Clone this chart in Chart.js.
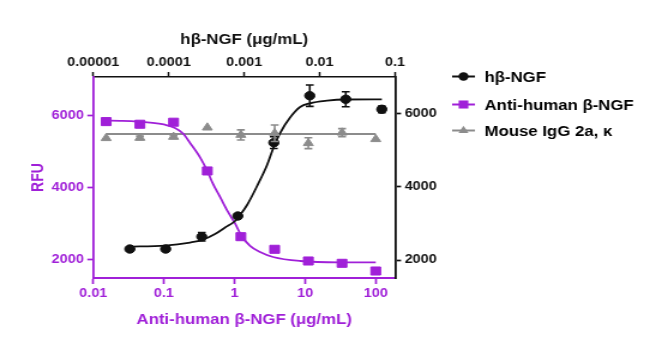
<!DOCTYPE html>
<html>
<head>
<meta charset="utf-8">
<script src="https://cdn.jsdelivr.net/npm/chart.js@4.4.1/dist/chart.umd.min.js"></script>
<style>
html,body{margin:0;padding:0;background:#fff;overflow:hidden}
#c{display:block}
</style>
</head>
<body>
<canvas id="c" width="542" height="361" style="width:650px;height:361px"></canvas>
<script>
// ---------- data ----------
// hβ-NGF (top x axis, µg/mL; right y axis, RFU)
const ngfConc = [3.05e-5, 9.1e-5, 2.74e-4, 8.23e-4, 2.47e-3, 7.4e-3, 2.22e-2, 6.67e-2];
const ngfRFU  = [2300, 2300, 2635, 3200, 5199, 6480, 6383, 6110];
const ngfErr  = [0, 0, 115, 0, 160, 290, 205, 90];
const ngfFitConc = [2.8e-5, 8.93e-5, 1.917e-4, 2.764e-4, 4.11e-4, 5.58e-4, 7.57e-4, 8.82e-4, 1.093e-3, 1.483e-3, 2.012e-3, 2.492e-3, 2.992e-3, 4.063e-3, 5.513e-3, 7.48e-3, 1.258e-2, 2.179e-2, 6.68e-2];
const ngfFitRFU  = [2363, 2395, 2477, 2545, 2709, 2886, 3064, 3227, 3500, 4018, 4591, 5109, 5463, 5886, 6172, 6273, 6344, 6377, 6382];

// Anti-human β-NGF (bottom x axis, µg/mL; left y axis, RFU)
const antiConc = [0.0152, 0.0457, 0.137, 0.412, 1.23, 3.70, 11.1, 33.3, 100];
const antiRFU  = [5842, 5769, 5825, 4472, 2647, 2297, 1972, 1908, 1694];
const antiErr  = [0, 70, 0, 0, 0, 0, 0, 0, 0];
const antiFitConc = [0.0152, 0.0239, 0.0635, 0.1036, 0.1436, 0.1865, 0.2343, 0.3246, 0.412, 0.4957, 0.6233, 0.809, 1.016, 1.236, 1.659, 2.296, 3.509, 8.47, 31.2, 100];
const antiFitRFU  = [5869, 5862, 5815, 5755, 5665, 5510, 5250, 4850, 4472, 4111, 3750, 3333, 3014, 2694, 2389, 2222, 2083, 1972, 1936, 1936];

// Mouse IgG 2a, κ (bottom x axis; left y axis)
const iggConc = [0.0152, 0.0457, 0.137, 0.412, 1.23, 3.70, 11.1, 33.3, 100];
const iggRFU  = [5381, 5389, 5417, 5675, 5472, 5519, 5242, 5536, 5353];
const iggErr  = [0, 50, 40, 0, 140, 230, 150, 110, 0];
const iggFitConc = [0.0152, 100];
const iggFitRFU  = [5500, 5500];

// ticks and labels
const bottomTicks = [0.01, 0.1, 1, 10, 100];
const bottomTickLabels = ['0.01', '0.1', '1', '10', '100'];
const topTicks = [0.00001, 0.0001, 0.001, 0.01, 0.1];
const topTickLabels = ['0.00001', '0.0001', '0.001', '0.01', '0.1'];
const yTicks = [2000, 4000, 6000];
const seriesNames = ['hβ-NGF', 'Anti-human β-NGF', 'Mouse IgG 2a, κ'];
const topTitle = 'hβ-NGF (μg/mL)';
const bottomTitle = 'Anti-human β-NGF (μg/mL)';
const leftTitle = 'RFU';

// ---------- styles ----------
const PURPLE = '#A020D8';
const BLACK = '#111111';
const GRAY = '#8C8C8C';
const FONT = '"Liberation Sans", Arial, Helvetica, sans-serif';

const pts = (xs, ys) => xs.map((x, i) => ({x: x, y: ys[i]}));

function drawMarker(ctx, style, x, y, r, color) {
  ctx.fillStyle = color;
  ctx.beginPath();
  if (style === 'circle') {
    ctx.arc(x, y, r, 0, Math.PI * 2);
  } else if (style === 'rect') {
    const s = r * Math.SQRT1_2;
    ctx.rect(x - s, y - s, 2 * s, 2 * s);
  } else if (style === 'triangle') {
    ctx.moveTo(x, y - r);
    ctx.lineTo(x + r * Math.sin(2 * Math.PI / 3), y - r * Math.cos(2 * Math.PI / 3));
    ctx.lineTo(x + r * Math.sin(4 * Math.PI / 3), y - r * Math.cos(4 * Math.PI / 3));
    ctx.closePath();
  }
  ctx.fill();
}

const errSeries = [
  {x: 'xt', y: 'yr', xv: ngfConc, yv: ngfRFU, err: ngfErr, color: BLACK},
  {x: 'xb', y: 'yl', xv: antiConc, yv: antiRFU, err: antiErr, color: PURPLE},
  {x: 'xb', y: 'yl', xv: iggConc, yv: iggRFU, err: iggErr, color: GRAY}
];

const errorBarPlugin = {
  id: 'errorBars',
  afterDatasetsDraw(chart) {
    const ctx = chart.ctx;
    errSeries.forEach(s => {
      const xs = chart.scales[s.x], ys = chart.scales[s.y];
      ctx.save();
      ctx.strokeStyle = s.color;
      ctx.lineWidth = 1.6;
      s.xv.forEach((xv, i) => {
        const e = s.err[i];
        if (!e) return;
        const px = xs.getPixelForValue(xv);
        const t = ys.getPixelForValue(s.yv[i] + e);
        const b = ys.getPixelForValue(s.yv[i] - e);
        ctx.beginPath();
        ctx.moveTo(px, t); ctx.lineTo(px, b);
        ctx.moveTo(px - 3.3, t); ctx.lineTo(px + 3.3, t);
        ctx.moveTo(px - 3.3, b); ctx.lineTo(px + 3.3, b);
        ctx.stroke();
      });
      ctx.restore();
    });
  }
};

const legendItems = [
  {label: seriesNames[0], color: BLACK, style: 'circle', r: 4.2},
  {label: seriesNames[1], color: PURPLE, style: 'rect', r: 5.7},
  {label: seriesNames[2], color: GRAY, style: 'triangle', r: 4.8}
];
const legendPlugin = {
  id: 'customLegend',
  afterDraw(chart) {
    const ctx = chart.ctx;
    const ys = [76.5, 104.5, 130.5];
    ctx.save();
    legendItems.forEach((it, i) => {
      const y = ys[i];
      ctx.strokeStyle = it.color;
      ctx.lineWidth = 2;
      ctx.beginPath();
      ctx.moveTo(377, y); ctx.lineTo(396, y);
      ctx.stroke();
      drawMarker(ctx, it.style, 386.5, y, it.r, it.color);
      ctx.fillStyle = '#000';
      ctx.font = 'bold 14px ' + FONT;
      ctx.textBaseline = 'middle';
      ctx.textAlign = 'left';
      ctx.fillText(it.label, 404, y + 1.5);
    });
    ctx.restore();
  }
};

const tickFont = {family: FONT, size: 12, weight: 'bold'};
const titleFont = {family: FONT, size: 14, weight: 'bold'};

new Chart(document.getElementById('c'), {
  type: 'scatter',
  data: {
    datasets: [
      {label: seriesNames[0], data: pts(ngfConc, ngfRFU), xAxisID: 'xt', yAxisID: 'yr',
       pointStyle: 'circle', pointRadius: 4.2, backgroundColor: BLACK, borderColor: BLACK, pointBorderWidth: 1, order: 1},
      {label: seriesNames[1], data: pts(antiConc, antiRFU), xAxisID: 'xb', yAxisID: 'yl',
       pointStyle: 'rect', pointRadius: 5.7, backgroundColor: PURPLE, borderColor: PURPLE, pointBorderWidth: 1, order: 2},
      {label: seriesNames[2], data: pts(iggConc, iggRFU), xAxisID: 'xb', yAxisID: 'yl',
       pointStyle: 'triangle', pointRadius: 4.8, backgroundColor: GRAY, borderColor: GRAY, pointBorderWidth: 1, order: 3},
      {label: seriesNames[0] + ' fit', data: pts(ngfFitConc, ngfFitRFU), xAxisID: 'xt', yAxisID: 'yr',
       showLine: true, pointRadius: 0, borderColor: BLACK, borderWidth: 1.8, cubicInterpolationMode: 'monotone', order: 4},
      {label: seriesNames[1] + ' fit', data: pts(antiFitConc, antiFitRFU), xAxisID: 'xb', yAxisID: 'yl',
       showLine: true, pointRadius: 0, borderColor: PURPLE, borderWidth: 1.8, cubicInterpolationMode: 'monotone', order: 5},
      {label: seriesNames[2] + ' fit', data: pts(iggFitConc, iggFitRFU), xAxisID: 'xb', yAxisID: 'yl',
       showLine: true, pointRadius: 0, borderColor: GRAY, borderWidth: 2, order: 6}
    ]
  },
  options: {
    responsive: false,
    animation: false,
    devicePixelRatio: 1,
    events: [],
    layout: {padding: {left: 0, right: 160, top: 0, bottom: 0}},
    plugins: {legend: {display: false}, tooltip: {enabled: false}},
    scales: {
      xb: {
        type: 'logarithmic', position: 'bottom', min: 0.01, max: 187.6,
        afterBuildTicks: s => { s.ticks = bottomTicks.map(v => ({value: v})); },
        afterFit: s => { s.height = 83; },
        ticks: {callback: (v, i) => bottomTickLabels[i], color: PURPLE, font: tickFont, padding: 2, autoSkip: false, maxRotation: 0},
        grid: {display: true, drawOnChartArea: false, drawTicks: true, tickLength: 6, tickColor: PURPLE, tickWidth: 1.7},
        border: {display: true, color: PURPLE, width: 2},
        title: {display: true, text: bottomTitle, color: PURPLE, font: titleFont, padding: {top: 0, bottom: 32.6}}
      },
      xt: {
        type: 'logarithmic', position: 'top', min: 0.00001, max: 0.1,
        afterBuildTicks: s => { s.ticks = topTicks.map(v => ({value: v})); },
        afterFit: s => { s.height = 77; },
        ticks: {callback: (v, i) => topTickLabels[i], color: BLACK, font: tickFont, padding: 2, autoSkip: false, maxRotation: 0},
        grid: {display: true, drawOnChartArea: false, drawTicks: true, tickLength: 5, tickColor: BLACK, tickWidth: 1.5},
        border: {display: true, color: BLACK, width: 1.5},
        title: {display: true, text: topTitle, color: BLACK, font: titleFont, padding: {top: 31.6, bottom: 0}}
      },
      yl: {
        type: 'linear', position: 'left', min: 1500, max: 7080,
        afterBuildTicks: s => { s.ticks = yTicks.map(v => ({value: v})); },
        afterFit: s => { s.width = 77.8; },
        ticks: {callback: v => String(v), color: PURPLE, font: tickFont, padding: 3},
        grid: {display: true, drawOnChartArea: false, drawTicks: true, tickLength: 5, tickColor: PURPLE, tickWidth: 1.7},
        border: {display: true, color: PURPLE, width: 1.8},
        title: {display: true, text: leftTitle, color: PURPLE, font: titleFont, padding: {top: 24, bottom: 0}}
      },
      yr: {
        type: 'linear', position: 'right', min: 1510, max: 6990,
        afterBuildTicks: s => { s.ticks = yTicks.map(v => ({value: v})); },
        afterFit: s => { s.width = 52.6; },
        ticks: {callback: v => String(v), color: BLACK, font: tickFont, padding: 3},
        grid: {display: true, drawOnChartArea: false, drawTicks: true, tickLength: 5, tickColor: BLACK, tickWidth: 1.7},
        border: {display: true, color: BLACK, width: 1.8}
      }
    }
  },
  plugins: [errorBarPlugin, legendPlugin]
});
</script>
</body>
</html>
